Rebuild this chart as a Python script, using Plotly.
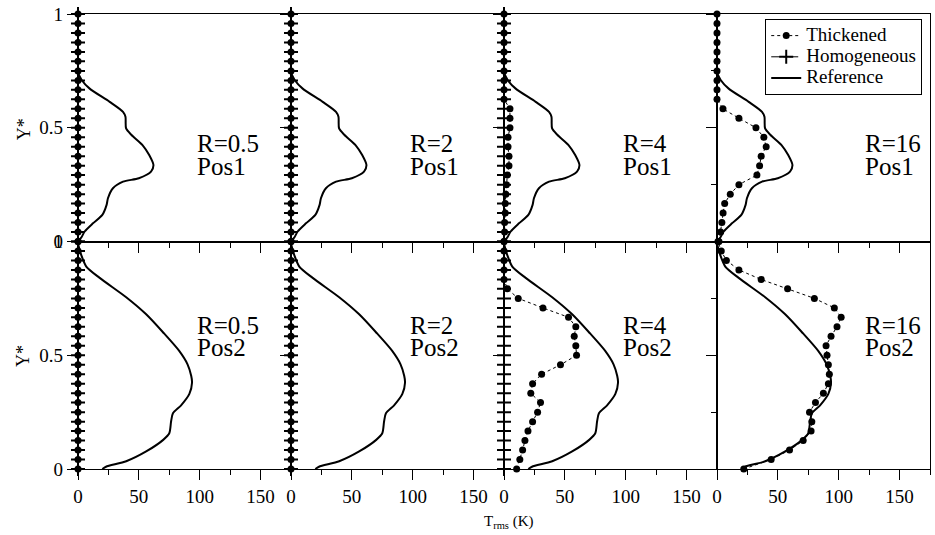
import plotly.graph_objects as go
from plotly.subplots import make_subplots

# ---------------- data ----------------
Y_STAR = [0.0, 0.042, 0.083, 0.125, 0.167, 0.208, 0.25, 0.292, 0.333, 0.375,
          0.417, 0.458, 0.5, 0.542, 0.583, 0.625, 0.667, 0.708, 0.75, 0.792,
          0.833, 0.875, 0.917, 0.958, 1.0]

R_LABELS = ["R=0.5", "R=2", "R=4", "R=16"]
POS_LABELS = ["Pos1", "Pos2"]
SERIES_NAMES = ["Thickened", "Homogeneous", "Reference"]
X_TICKS = [0, 50, 100, 150]
Y_TICKS = [0, 0.5, 1]

# Reference profiles (T_rms in K versus Y*)
REF_POS1_Y = [0.0, 0.02, 0.044, 0.08, 0.117, 0.161, 0.19, 0.234, 0.263, 0.278,
              0.307, 0.336, 0.38, 0.424, 0.468, 0.497, 0.548, 0.57, 0.614,
              0.672, 0.71, 0.745, 1.0]
REF_POS1_T = [0, 3, 5.5, 12.3, 20, 23.5, 24.6, 28.7, 37, 50,
              60, 62, 58.5, 53, 44, 39.5, 39, 37, 26,
              9.6, 3, 0, 0]

REF_POS2_Y = [0.0, 0.01, 0.034, 0.077, 0.128, 0.157, 0.21, 0.245, 0.28, 0.33,
              0.38, 0.41, 0.46, 0.52, 0.60, 0.68, 0.755, 0.84, 0.89, 0.94,
              0.98, 1.0]
REF_POS2_T = [20, 23, 39.6, 56, 70, 75, 76.5, 78, 84.7, 91.5,
              93.7, 93, 90, 83, 70, 56, 39.6, 17.8, 6.8, 2.7,
              0.5, 0]

# Thickened case
THICK_R05_POS1 = [0, 0, 0, 0, 0, 0, 0, 0, 0, 0, 0, 0, 0, 0, 0, 0, 0, 0, 0, 0, 0, 0, 0, 0, 0]
THICK_R2_POS1 = [0, 0, 0, 0, 0, 0, 0, 0, 0, 0, 0, 0, 0, 0, 0, 0, 0, 0, 0, 0, 0, 0, 0, 0, 0]
THICK_R4_POS1 = [0, 0.5, 0.5, 1, 1, 1.5, 2, 2.7, 4.1, 4.1, 3.3, 3.3, 4.9, 4.9, 4.9,
                 0, 0, 0, 0, 0, 0, 0, 0, 0, 0]
THICK_R16_POS1 = [1.6, 3, 4, 5, 6.3, 10.9, 18, 32.8, 35, 36.3, 40.4, 38.5, 32, 18, 4.9,
                  0, 0, 0, 0, 0, 0, 0, 0, 0, 0]
THICK_R05_POS2 = [0, 0, 0, 0, 0, 0, 0, 0, 0, 0, 0, 0, 0, 0, 0, 0, 0, 0, 0, 0, 0, 0, 0, 0, 0]
THICK_R2_POS2 = [0, 0, 0, 0, 0, 0, 0, 0, 0, 0, 0, 0, 0, 0, 0, 0, 0, 0, 0, 0, 0, 0, 0, 0, 0]
THICK_R4_POS2 = [10.4, 13, 15.3, 17.2, 19.7, 23.5, 27.6, 30, 22, 23.5, 30.9, 46.4, 59.6,
                 59, 57.7, 59, 53, 32, 11.7, 2.7, 0, 0, 0, 0, 0]
THICK_R16_POS2 = [22, 44.5, 59.6, 70.8, 77.3, 77.9, 76, 80.9, 87.4, 91.5, 92.3, 91.5,
                  90.4, 89.6, 93.7, 98.6, 102, 96.4, 80, 58, 36.3, 18, 7.7, 3.5, 0.8]

# Homogeneous case (not shown for R=16)
HOMO_R05_POS1 = [0, 0, 0, 0, 0, 0, 0, 0, 0, 0, 0, 0, 0, 0, 0, 0, 0, 0, 0, 0, 0, 0, 0, 0, 0]
HOMO_R2_POS1 = [0, 0, 0, 0, 0, 0, 0, 0, 0, 0, 0, 0, 0, 0, 0, 0, 0, 0, 0, 0, 0, 0, 0, 0, 0]
HOMO_R4_POS1 = [0, 0, 0, 0, 0, 0, 0, 0, 0, 0, 0, 0, 0, 0, 0, 0, 0, 0, 0, 0, 0, 0, 0, 0, 0]
HOMO_R05_POS2 = [0, 0, 0, 0, 0, 0, 0, 0, 0, 0, 0, 0, 0, 0, 0, 0, 0, 0, 0, 0, 0, 0, 0, 0, 0]
HOMO_R2_POS2 = [0, 0, 0, 0, 0, 0, 0, 0, 0, 0, 0, 0, 0, 0, 0, 0, 0, 0, 0, 0, 0, 0, 0, 0, 0]
HOMO_R4_POS2 = [0, 0, 0, 0, 0, 0, 0, 0, 0, 0, 0, 0, 0, 0, 0, 0, 0, 0, 0, 0, 0, 0, 0, 0, 0]

# ---------------- assembly ----------------
REF = {1: (REF_POS1_T, REF_POS1_Y), 2: (REF_POS2_T, REF_POS2_Y)}
THICK = {
    1: [THICK_R05_POS1, THICK_R2_POS1, THICK_R4_POS1, THICK_R16_POS1],
    2: [THICK_R05_POS2, THICK_R2_POS2, THICK_R4_POS2, THICK_R16_POS2],
}
HOMO = {
    1: [HOMO_R05_POS1, HOMO_R2_POS1, HOMO_R4_POS1, None],
    2: [HOMO_R05_POS2, HOMO_R2_POS2, HOMO_R4_POS2, None],
}
LABEL_X = [96, 96, 96, 120]

SERIF = "'Liberation Serif', 'Times New Roman', serif"


def legend_name(s):
    return f"<span style='font-size:19px'>{s}</span>"


fig = make_subplots(rows=2, cols=4, horizontal_spacing=0, vertical_spacing=0)

for row in (1, 2):
    for col in range(1, 5):
        first = (row == 1 and col == 1)
        rt, ry = REF[row]
        fig.add_trace(go.Scatter(
            x=rt, y=ry, mode="lines", name=legend_name(SERIES_NAMES[2]),
            line=dict(color="black", width=2, shape="spline", smoothing=0.7),
            showlegend=first, legendrank=3, cliponaxis=False), row=row, col=col)
        h = HOMO[row][col - 1]
        if h is not None:
            fig.add_trace(go.Scatter(
                x=h, y=Y_STAR, mode="lines+markers", name=legend_name(SERIES_NAMES[1]),
                line=dict(color="black", width=1, dash="dashdot"),
                marker=dict(symbol="cross-thin", size=10, color="black",
                            line=dict(width=2, color="black")),
                showlegend=first, legendrank=2, cliponaxis=False), row=row, col=col)
        fig.add_trace(go.Scatter(
            x=THICK[row][col - 1], y=Y_STAR, mode="lines+markers", name=legend_name(SERIES_NAMES[0]),
            line=dict(color="black", width=1, dash="3px,3px"),
            marker=dict(symbol="circle", size=7, color="black"),
            showlegend=first, legendrank=1, cliponaxis=False), row=row, col=col)

        fig.update_xaxes(
            range=[0, 175], tickmode="array", tickvals=X_TICKS,
            ticks="outside", ticklen=10, tickwidth=1, tickcolor="black",
            minor=dict(dtick=25, tick0=0, ticks="outside", ticklen=5, tickwidth=1, tickcolor="black"),
            showline=True, linecolor="black", linewidth=1.3, mirror=True,
            showgrid=False, zeroline=False, layer="below traces",
            showticklabels=(row == 2),
            tickfont=dict(family=SERIF, size=19, color="black"),
            row=row, col=col)
        fig.update_yaxes(
            range=[0, 1], tickmode="array", tickvals=Y_TICKS,
            ticks="outside", ticklen=10, tickwidth=1, tickcolor="black",
            minor=dict(dtick=0.25, tick0=0, ticks="outside", ticklen=5, tickwidth=1, tickcolor="black"),
            showline=True, linecolor="black", linewidth=1.3, mirror=True,
            showgrid=False, zeroline=False, layer="below traces",
            showticklabels=(col == 1),
            tickfont=dict(family=SERIF, size=19, color="black"),
            row=row, col=col)

        idx = (row - 1) * 4 + col
        xr = "x" if idx == 1 else f"x{idx}"
        yr = "y" if idx == 1 else f"y{idx}"
        ry_r = 0.43 if row == 1 else 0.629
        ry_p = 0.329 if row == 1 else 0.533
        fig.add_annotation(x=LABEL_X[col - 1], y=ry_r, xref=xr, yref=yr,
                           text=R_LABELS[col - 1], showarrow=False,
                           xanchor="left", yanchor="middle",
                           font=dict(family=SERIF, size=25, color="black"))
        fig.add_annotation(x=LABEL_X[col - 1], y=ry_p, xref=xr, yref=yr,
                           text=POS_LABELS[row - 1], showarrow=False,
                           xanchor="left", yanchor="middle",
                           font=dict(family=SERIF, size=25, color="black"))

for yp in (0.748, 0.2495):
    fig.add_annotation(x=-0.064, y=yp, xref="paper", yref="paper", text="Y*",
                       textangle=-90, showarrow=False, xanchor="center", yanchor="middle",
                       font=dict(family=SERIF, size=18, color="black"))

fig.add_annotation(x=0.506, y=-0.116, xref="paper", yref="paper",
                   text="T<sub>rms</sub> (K)", showarrow=False,
                   xanchor="center", yanchor="middle",
                   font=dict(family=SERIF, size=15, color="black"))

fig.update_layout(
    width=935, height=535,
    margin=dict(l=78, r=4, t=12, b=66),
    paper_bgcolor="white", plot_bgcolor="white",
    font=dict(family=SERIF, color="black"),
    legend=dict(x=0.8066, y=0.989, xanchor="left", yanchor="top",
                bgcolor="white", bordercolor="black", borderwidth=1,
                font=dict(family=SERIF, size=14, color="black"),
                tracegroupgap=0, itemwidth=30),
)

fig.write_html("out.html", config={"displayModeBar": False},
               post_script="document.body.style.margin='0px';document.body.style.padding='0px';")
